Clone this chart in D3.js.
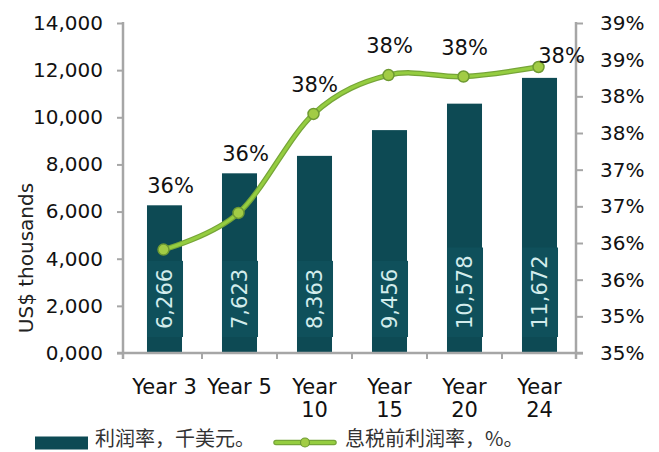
<!DOCTYPE html>
<html>
<head>
<meta charset="utf-8">
<script src="https://cdn.jsdelivr.net/npm/d3@7"></script>
<style>
  html, body { margin: 0; padding: 0; background: #fff; }
  svg { display: block; font-family: "DejaVu Sans", Verdana, sans-serif; }
</style>
</head>
<body>
<svg id="chart" width="659" height="452"></svg>
<script>
// ---- data ----
const categories = ["Year 3", "Year 5", "Year 10", "Year 15", "Year 20", "Year 24"];
const profitValues = [6266, 7623, 8363, 9456, 10578, 11672];      // 利润率，千美元
const marginValues = [35.91, 36.41, 37.76, 38.29, 38.27, 38.40];  // 息税前利润率，%
const leftTicks = [0, 2000, 4000, 6000, 8000, 10000, 12000, 14000];
const leftTickLabels = ["0,000", "2,000", "4,000", "6,000", "8,000", "10,000", "12,000", "14,000"];
const rightTicks = [34.5, 35, 35.5, 36, 36.5, 37, 37.5, 38, 38.5, 39];
const legendLabels = ["利润率，千美元。", "息税前利润率，%。"];
const yTitle = "US$ thousands";

// ---- layout ----
const svg = d3.select("#chart");
const axisL = 123, axisR = 576, yBottom = 353, yTop = 23;
const barColor = "#0d4a54", boxColor = "#0f505b", axisColor = "#a6a6a6";
const lineOuter = "#76a538", lineInner = "#95cd40";

const x = d3.scaleBand().domain(categories).range([127, 577]).paddingInner(0.533).paddingOuter(0.2665);
const y = d3.scaleLinear().domain([0, 14000]).range([yBottom, yTop]);
const y2 = d3.scaleLinear().domain([34.5, 39]).range([yBottom, yTop]);
const step = x.step();

// ---- bars ----
svg.append("g").selectAll("rect").data(profitValues).join("rect")
  .attr("x", (d, i) => x(categories[i]))
  .attr("width", x.bandwidth())
  .attr("y", d => y(d))
  .attr("height", d => y(0) - y(d))
  .attr("fill", barColor);

// bar value labels (rotated, in boxes)
const fmt = d3.format(",");
const barLabelG = svg.append("g");
profitValues.forEach((d, i) => {
  const cx = x(categories[i]) + x.bandwidth() / 2;
  const g = barLabelG.append("g");
  const t = g.append("text")
    .attr("font-size", 21)
    .attr("fill", "#d3ecec")
    .attr("text-anchor", "middle")
    .attr("dominant-baseline", "central")
    .text(fmt(d));
  const len = t.node().getComputedTextLength();
  const h = len + 16;
  const bottom = y(0) - 16;
  const cy = bottom - h / 2;
  g.insert("rect", "text")
    .attr("x", cx - x.bandwidth() / 2)
    .attr("width", x.bandwidth() + 1)
    .attr("y", bottom - h)
    .attr("height", h)
    .attr("fill", boxColor);
  t.attr("transform", `translate(${cx},${cy}) rotate(-90)`);
});

// ---- axes ----
const gL = svg.append("g").attr("transform", `translate(${axisL},0)`)
  .call(d3.axisLeft(y).tickValues(leftTicks).tickFormat((d, i) => leftTickLabels[i]).tickSize(6).tickPadding(14));
const gR = svg.append("g").attr("transform", `translate(${axisR},0)`)
  .call(d3.axisRight(y2).tickValues(rightTicks).tickFormat(d => Math.round(d) + "%").tickSize(7).tickPadding(17));
[gL, gR].forEach(g => {
  g.select(".domain").attr("stroke", axisColor).attr("stroke-width", 2.5).attr("d", `M0,${yTop - 1}V${yBottom + 6}`);
  g.selectAll(".tick line").attr("stroke", axisColor).attr("stroke-width", 2);
  g.selectAll(".tick text").attr("font-size", 20).attr("fill", "#111").attr("font-family", "DejaVu Sans, sans-serif");
});
// x axis line + category boundary ticks
const gX = svg.append("g");
gX.append("line").attr("x1", axisL - 6).attr("x2", axisR + 7).attr("y1", yBottom).attr("y2", yBottom)
  .attr("stroke", axisColor).attr("stroke-width", 2.5);
gX.selectAll("line.bt").data(categories.slice(1)).join("line").attr("class", "bt")
  .attr("x1", d => x(d) - step * x.paddingInner() / 2).attr("x2", d => x(d) - step * x.paddingInner() / 2)
  .attr("y1", yBottom).attr("y2", yBottom + 6)
  .attr("stroke", axisColor).attr("stroke-width", 2);

// x labels, wrapped when wider than the band step
categories.forEach(c => {
  const cx = x(c) + x.bandwidth() / 2;
  const t = gX.append("text").attr("x", cx).attr("y", 394).attr("text-anchor", "middle")
    .attr("font-size", 21).attr("fill", "#111").text(c);
  if (t.node().getComputedTextLength() > step - 2) {
    const parts = c.split(" ");
    t.text(null);
    parts.forEach((p, k) => t.append("tspan").attr("x", cx).attr("dy", k === 0 ? 0 : 22.5).text(p));
  }
});

// y title
svg.append("text")
  .attr("transform", `translate(33,258) rotate(-90)`)
  .attr("text-anchor", "middle")
  .attr("font-size", 20)
  .attr("fill", "#222")
  .text(yTitle);

// ---- line ----
const pts = marginValues.map((v, i) => [x(categories[i]) + x.bandwidth() / 2 - 1, y2(v)]);
const lineGen = d3.line().curve(d3.curveCatmullRom.alpha(0));
svg.append("path").attr("d", lineGen(pts)).attr("fill", "none").attr("stroke", lineOuter).attr("stroke-width", 5.5).attr("stroke-linecap", "round");
svg.append("path").attr("d", lineGen(pts)).attr("fill", "none").attr("stroke", lineInner).attr("stroke-width", 3).attr("stroke-linecap", "round");
svg.append("g").selectAll("circle").data(pts).join("circle")
  .attr("cx", d => d[0]).attr("cy", d => d[1]).attr("r", 5.5)
  .attr("fill", "#a2cc45").attr("stroke", "#6e9a32").attr("stroke-width", 1.5);

// percent labels: above bar or point, whichever is higher; last one beside point
marginValues.forEach((v, i) => {
  const [px, py] = pts[i];
  const barTop = y(profitValues[i]);
  let lx = px + 1, ly = Math.min(py - 22, barTop - 12);
  if (barTop - 12 < py - 22) lx = px + 7;
  if (i === marginValues.length - 1) { lx = px + 23; ly = py - 4; }
  svg.append("text").attr("x", lx).attr("y", ly).attr("text-anchor", "middle")
    .attr("font-size", 21).attr("fill", "#111").text(Math.round(v) + "%");
});

// ---- legend ----
const lg = svg.append("g");
lg.append("rect").attr("x", 35).attr("y", 436.5).attr("width", 53).attr("height", 13).attr("fill", barColor);
lg.append("text").attr("x", 95).attr("y", 446).attr("font-size", 20).attr("fill", "#333")
  .attr("font-family", "'Noto Sans CJK SC', sans-serif").text(legendLabels[0]);
lg.append("line").attr("x1", 276).attr("x2", 334).attr("y1", 442.5).attr("y2", 442.5).attr("stroke", lineOuter).attr("stroke-width", 5.5).attr("stroke-linecap", "round");
lg.append("line").attr("x1", 276).attr("x2", 334).attr("y1", 442.5).attr("y2", 442.5).attr("stroke", lineInner).attr("stroke-width", 3).attr("stroke-linecap", "round");
lg.append("circle").attr("cx", 305).attr("cy", 442.5).attr("r", 4.5).attr("fill", "#a2cc45").attr("stroke", "#6e9a32").attr("stroke-width", 1.2);
lg.append("text").attr("x", 345).attr("y", 446).attr("font-size", 20).attr("fill", "#333")
  .attr("font-family", "'Noto Sans CJK SC', sans-serif").text(legendLabels[1]);
</script>
</body>
</html>
